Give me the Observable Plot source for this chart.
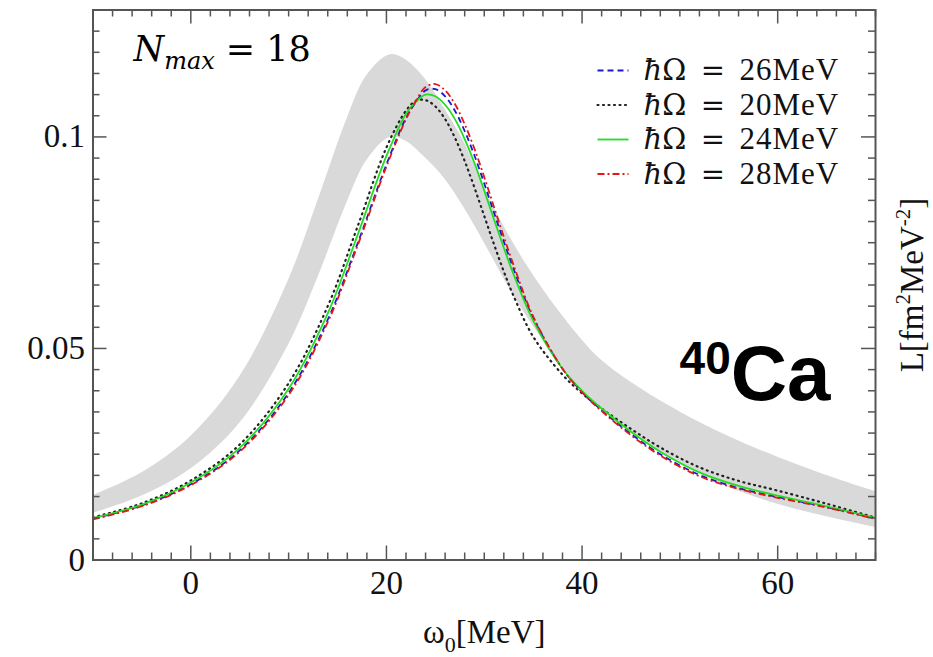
<!DOCTYPE html>
<html><head><meta charset="utf-8">
<script src="https://cdn.jsdelivr.net/npm/d3@7"></script>
<script src="https://cdn.jsdelivr.net/npm/@observablehq/plot@0.6"></script>
<style>body{margin:0;background:#fff}</style>
</head><body><div id="chart"></div>
<script>
// omega_0 grid (MeV) for the four hbar-Omega curves
const omega = [-10,-5,0,5,10,14,17,20,22,23,24,25,26,27,28,29,30,31,32,33,35,38,40,42,45,48,52,56,60,65,70];
const hw26 = [0.0098,0.0129,0.0179,0.0259,0.0395,0.0568,0.0745,0.0935,0.1045,0.1082,0.1110,0.1113,0.1096,0.1062,0.1014,0.0956,0.0890,0.0821,0.0753,0.0688,0.0572,0.0452,0.0397,0.0354,0.0298,0.0250,0.0201,0.0170,0.0149,0.0125,0.0098];
const hw20 = [0.0101,0.0134,0.0188,0.0273,0.0418,0.0600,0.0785,0.0975,0.1062,0.1085,0.1087,0.1072,0.1042,0.0998,0.0943,0.0880,0.0813,0.0746,0.0682,0.0624,0.0528,0.0438,0.0394,0.0358,0.0310,0.0266,0.0219,0.0187,0.0164,0.0133,0.0100];
const hw24 = [0.0099,0.0131,0.0183,0.0265,0.0405,0.0583,0.0765,0.0955,0.1055,0.1083,0.1100,0.1096,0.1076,0.1042,0.0995,0.0938,0.0873,0.0805,0.0738,0.0675,0.0566,0.0452,0.0400,0.0358,0.0303,0.0256,0.0207,0.0175,0.0152,0.0127,0.0099];
const hw28 = [0.0096,0.0127,0.0177,0.0256,0.0390,0.0562,0.0740,0.0930,0.1042,0.1085,0.1118,0.1125,0.1110,0.1078,0.1030,0.0972,0.0905,0.0834,0.0764,0.0697,0.0576,0.0452,0.0396,0.0352,0.0295,0.0247,0.0198,0.0168,0.0147,0.0124,0.0097];

// gray uncertainty band
const bandOmega = [-10,-5,0,5,10,13,16,18,20.4,22,24,26,28,30,33,36,40,42,45,50,55,60,65,70];
const bandLow  = [0.0110,0.0151,0.0215,0.0323,0.0509,0.0668,0.0846,0.0944,0.0999,0.0990,0.0950,0.0900,0.0830,0.0750,0.0625,0.0520,0.0400,0.0357,0.0300,0.0228,0.0172,0.0132,0.0102,0.0077];
const bandHigh = [0.0152,0.0206,0.0292,0.0433,0.0662,0.0849,0.1044,0.1145,0.1194,0.1182,0.1136,0.1064,0.0985,0.0880,0.0748,0.0640,0.0520,0.0472,0.0420,0.0350,0.0292,0.0243,0.0200,0.0162];

// ticks
const xTickLabels = [0,20,40,60];
const yTickLabels = [0,0.05,0.1];
const yTickText = ["0","0.05","0.1"];

const legendValues = ["26","20","24","28"];
const legendColors = ["#1a1acc","#222222","#22dd22","#e01818"];
const legendDash = ["6,4","1,4.5",null,"7,3,2,3"];
const seriesValues = [hw26, hw20, hw24, hw28];

const W = 933, H = 657;
const mL = 92.5, mR = 58, mT = 9.5, mB = 97.5;
const FW = W - mL - mR, FH = H - mT - mB;
const serif = "Liberation Serif";
const mathF = "DejaVu Serif";
const axisColor = "#555";

const band = bandOmega.map((x,i)=>({x, lo: bandLow[i], hi: bandHigh[i]}));
const xMinor = d3.range(-10, 71, 2).filter(d => !xTickLabels.includes(d));
const yMinor = d3.range(0, 27).map(i => +(i*0.005).toFixed(3)).filter(d => !yTickLabels.includes(d));

const lineShape = {draw(ctx, l) { ctx.moveTo(0,0); ctx.lineTo(0,-l); }};
const widthOf = k => k===1 ? 2.2 : 1.8;
const capOf = k => k===1 ? "round" : "butt";

const marks = [
  Plot.areaY(band, {x: "x", y1: "lo", y2: "hi", fill: "#d9d9d9", curve: "catmull-rom"}),
];
[1,0,2,3].forEach(k => {
  const pts = omega.map((x,i)=>({x, y: seriesValues[k][i]}));
  marks.push(Plot.line(pts, {x:"x", y:"y", stroke: legendColors[k], strokeWidth: widthOf(k),
    strokeDasharray: legendDash[k] || undefined, curve: "catmull-rom", strokeLinecap: capOf(k)}));
});
const tk = {stroke: axisColor, strokeWidth: 1.5};
marks.push(
  Plot.tickX(xMinor, {x: d=>d, insetTop: FH-7, ...tk}),
  Plot.tickX(xMinor, {x: d=>d, insetBottom: FH-7, ...tk}),
  Plot.tickX(xTickLabels, {x: d=>d, insetTop: FH-14, ...tk}),
  Plot.tickX(xTickLabels, {x: d=>d, insetBottom: FH-14, ...tk}),
  Plot.tickY(yMinor, {y: d=>d, insetRight: FW-7, ...tk}),
  Plot.tickY(yMinor, {y: d=>d, insetLeft: FW-7, ...tk}),
  Plot.tickY(yTickLabels, {y: d=>d, insetRight: FW-14, ...tk}),
  Plot.tickY(yTickLabels, {y: d=>d, insetLeft: FW-14, ...tk}),
  Plot.frame({stroke: axisColor, strokeWidth: 2}),
  Plot.text(xTickLabels, {x: d=>d, text: d=>String(d), frameAnchor: "bottom", dy: 23.5, lineAnchor: "middle", fontSize: 33, fontFamily: serif, fill: "#111"}),
  Plot.text(yTickLabels, {y: d=>d, text: (d,i)=>yTickText[i], frameAnchor: "left", dx: -8, textAnchor: "end", lineAnchor: "middle", fontSize: 33, fontFamily: serif, fill: "#111"}),
  Plot.text(["ω0[MeV]"], {frameAnchor: "bottom", dy: 72.5, textAnchor: "middle", lineAnchor: "middle", fontSize: 33, fontFamily: serif, fill: "#111"}),
  Plot.text(["L[fm2MeV-2]"], {frameAnchor: "right", dx: 37, rotate: -90, textAnchor: "middle", lineAnchor: "middle", fontSize: 33, fontFamily: serif, fill: "#111"}),
  Plot.text(["Nmax = 18"], {frameAnchor: "top-left", dx: 40.5, dy: 40, textAnchor: "start", lineAnchor: "middle", fontSize: 35, fontFamily: mathF, fill: "#000"}),
  Plot.text(["40Ca"], {frameAnchor: "top-right", dx: -45, dy: 365.5, textAnchor: "end", lineAnchor: "middle", fontSize: 78, fontWeight: "bold", fontFamily: "Liberation Sans", fill: "#000"})
);
const rowY = [70, 104.5, 139, 173.5];
legendValues.forEach((v, i) => {
  marks.push(Plot.vector([v], {frameAnchor: "top-right", dx: 597-875, dy: rowY[i]-mT, length: 31, rotate: 90, anchor: "start",
    shape: lineShape, stroke: legendColors[i], strokeWidth: widthOf(i), strokeDasharray: legendDash[i] || undefined, strokeLinecap: capOf(i)}));
  marks.push(Plot.text([v], {text: d => "ħΩ = " + d + "MeV", frameAnchor: "top-right", dx: 643-875, dy: rowY[i]-mT, textAnchor: "start", lineAnchor: "middle", fontSize: 31, fontFamily: serif, fill: "#111"}));
});

const svg = Plot.plot({
  width: W, height: H, marginLeft: mL, marginRight: mR, marginTop: mT, marginBottom: mB,
  x: {domain: [-10,70], axis: null},
  y: {domain: [0,0.13], axis: null},
  style: {background: "#fff"},
  marks
});
document.getElementById("chart").appendChild(svg);

function rich(content, baseFont, parts) {
  const texts = [...svg.querySelectorAll("text")].filter(t => t.textContent === content);
  for (const text of texts) {
    text.textContent = "";
    let shift = 0;
    for (const p of parts) {
      const ts = document.createElementNS("http://www.w3.org/2000/svg", "tspan");
      ts.textContent = p.t;
      const target = p.shift || 0;
      ts.setAttribute("dy", target - shift);
      shift = target;
      if (p.size) ts.setAttribute("font-size", p.size);
      if (p.italic) ts.setAttribute("font-style", "italic");
      if (p.spacing) ts.setAttribute("letter-spacing", p.spacing);
      ts.setAttribute("font-family", p.font || baseFont);
      text.appendChild(ts);
    }
  }
}
rich("ω0[MeV]", serif, [{t:"ω"},{t:"0", size: 22, shift: 9},{t:"[MeV]"}]);
rich("L[fm2MeV-2]", serif, [{t:"L[fm"},{t:"2", size: 21, shift: -13},{t:"MeV"},{t:"-2", size: 21, shift: -13},{t:"]"}]);
rich("Nmax = 18", mathF, [{t:"N", italic: true},{t:"max", size: 24, shift: 8, italic: true},{t:" = 18"}]);
rich("40Ca", "Liberation Sans", [{t:"40", size: 46, shift: -26},{t:"Ca"}]);
legendValues.forEach(v => rich("ħΩ = " + v + "MeV", serif, [
  {t:"ħ", italic: true, font: mathF, size: 29},
  {t:"Ω\u2002=\u2002", font: mathF, size: 29},
  {t: v + "MeV", font: serif, spacing: 1}
]));
</script>
</body></html>
